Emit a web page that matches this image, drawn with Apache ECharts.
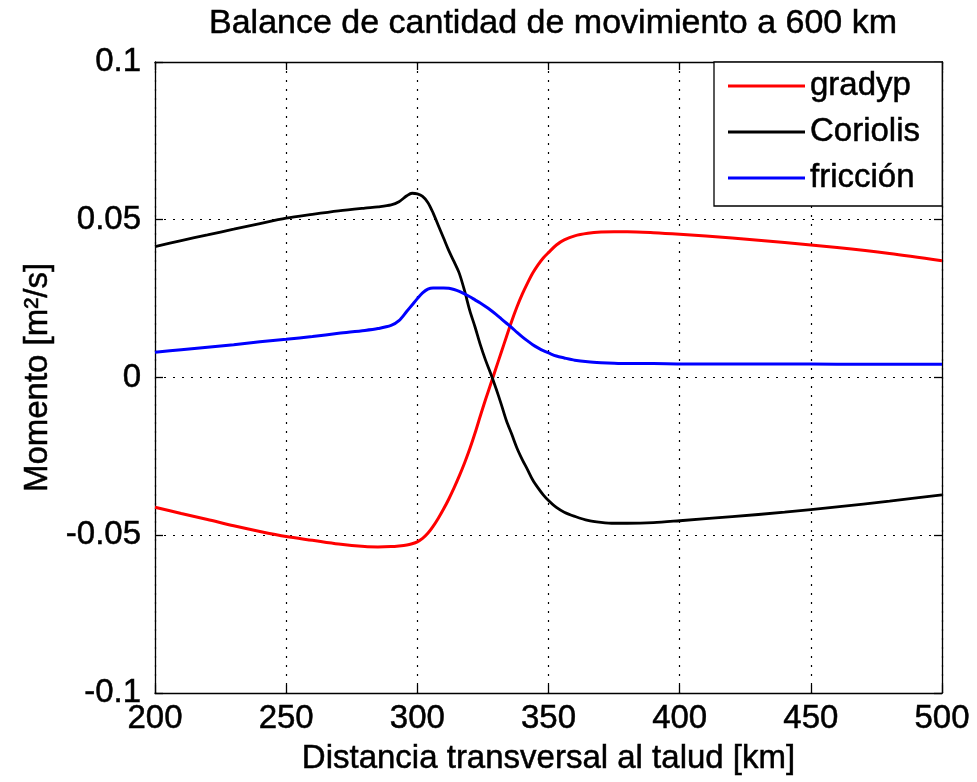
<!DOCTYPE html>
<html>
<head>
<meta charset="utf-8">
<script src="https://cdn.jsdelivr.net/npm/echarts@6/dist/echarts.min.js"></script>
<style>
  html, body { margin: 0; padding: 0; background: #fff; }
  #chart { width: 977px; height: 782px; }
</style>
</head>
<body>
<div id="chart"></div>
<script>
// Distance across the slope (km)
const distKm = [200,210,220,230,240,250,260,270,280,285,290,293,296,298,300,302,304,306,308,310,312,314,316,318,320,322,324,326,328,330,332,334,336,338,340,342,344,346,348,350,353,356,360,365,370,375,380,390,400,420,440,460,480,500];

// Pressure-gradient term (m^2/s)
const gradyp = [-0.0411,-0.0431,-0.0450,-0.0470,-0.0488,-0.0504,-0.0516,-0.0528,-0.0536,-0.0537,-0.0536,-0.0534,-0.0531,-0.0527,-0.0521,-0.0510,-0.0494,-0.0472,-0.0446,-0.0417,-0.0385,-0.0350,-0.0312,-0.0271,-0.0226,-0.0176,-0.0122,-0.0070,-0.0020,0.0030,0.0080,0.0130,0.0179,0.0224,0.0264,0.0299,0.0331,0.0357,0.0379,0.0396,0.0420,0.0436,0.0449,0.0457,0.0461,0.0462,0.0462,0.0459,0.0454,0.0442,0.0428,0.0412,0.0393,0.0370];

// Coriolis term (m^2/s)
const coriolis = [0.0415,0.0434,0.0452,0.0470,0.0488,0.0505,0.0517,0.0528,0.0537,0.0541,0.0547,0.0557,0.0576,0.0584,0.0582,0.0574,0.0555,0.0522,0.0482,0.0442,0.0402,0.0367,0.0330,0.0275,0.0212,0.0160,0.0104,0.0055,0.0012,-0.0035,-0.0085,-0.0138,-0.0180,-0.0224,-0.0260,-0.0292,-0.0325,-0.0350,-0.0372,-0.0390,-0.0412,-0.0427,-0.0440,-0.0453,-0.0459,-0.0462,-0.0462,-0.0460,-0.0454,-0.0441,-0.0427,-0.0410,-0.0392,-0.0372];

// Friction term (m^2/s)
const friccion = [0.0080,0.0088,0.0096,0.0104,0.0113,0.0121,0.0130,0.0140,0.0149,0.0155,0.0165,0.0180,0.0210,0.0230,0.0250,0.0268,0.0280,0.0284,0.0284,0.0284,0.0283,0.0279,0.0273,0.0265,0.0256,0.0246,0.0236,0.0225,0.0213,0.0200,0.0186,0.0172,0.0158,0.0143,0.0129,0.0116,0.0104,0.0094,0.0085,0.0078,0.0068,0.0062,0.0055,0.0050,0.0047,0.0045,0.0044,0.0044,0.0043,0.0043,0.0043,0.0042,0.0042,0.0042];

const seriesNames = ['gradyp', 'Coriolis', 'fricción'];
const xTicks = { min: 200, max: 500, step: 50 };
const yTicks = { min: -0.1, max: 0.1, step: 0.05 };

const pairs = vals => distKm.map((x, i) => [x, vals[i]]);

const FONT = '"Liberation Sans", Arial, Helvetica, sans-serif';
// slightly heavier glyphs, like the screen-rendered Helvetica of the plot
const ink = { color: '#000', textBorderColor: '#000', textBorderWidth: 0.5 };
const gridDots = { show: true, lineStyle: { color: '#000', width: 1.2, type: [2, 7] } };
const axisPen = { color: '#000', width: 1.3 };

const chart = echarts.init(document.getElementById('chart'), null, { renderer: 'canvas' });

chart.setOption({
  backgroundColor: '#fff',
  animation: false,
  textStyle: { fontFamily: FONT },
  title: {
    text: 'Balance de cantidad de movimiento a 600 km',
    left: 548,
    textAlign: 'center',
    top: 2,
    textStyle: Object.assign({ fontFamily: FONT, fontSize: 34, fontWeight: 'normal' }, ink)
  },
  grid: { left: 155, right: 35, top: 62, bottom: 89, show: false },
  legend: {
    data: seriesNames,
    orient: 'vertical',
    left: 714,
    top: 62,
    padding: [1, 22, 5, 14],
    itemGap: 0,
    itemWidth: 77,
    itemHeight: 3,
    icon: 'rect',
    backgroundColor: '#fff',
    borderColor: '#000',
    borderWidth: 1.3,
    borderRadius: 0,
    textStyle: Object.assign({ fontFamily: FONT, fontSize: 33, lineHeight: 46 }, ink)
  },
  xAxis: [
    {
      type: 'value', position: 'bottom',
      min: xTicks.min, max: xTicks.max, interval: xTicks.step,
      name: 'Distancia transversal al talud [km]',
      nameLocation: 'middle', nameGap: 49,
      nameTextStyle: Object.assign({ fontFamily: FONT, fontSize: 33 }, ink),
      axisLine: { show: true, onZero: false, lineStyle: axisPen },
      axisTick: { show: true, inside: true, length: 8, lineStyle: axisPen },
      axisLabel: Object.assign({ fontFamily: FONT, fontSize: 33, margin: 9 }, ink),
      splitLine: gridDots
    },
    {
      type: 'value', position: 'top',
      min: xTicks.min, max: xTicks.max, interval: xTicks.step,
      axisLine: { show: true, onZero: false, lineStyle: axisPen },
      axisTick: { show: true, inside: true, length: 8, lineStyle: axisPen },
      axisLabel: { show: false },
      splitLine: { show: false }
    }
  ],
  yAxis: [
    {
      type: 'value', position: 'left',
      min: yTicks.min, max: yTicks.max, interval: yTicks.step,
      name: 'Momento [m²/s]',
      nameLocation: 'middle', nameGap: 100,
      nameTextStyle: Object.assign({ fontFamily: FONT, fontSize: 33 }, ink),
      axisLine: { show: true, onZero: false, lineStyle: axisPen },
      axisTick: { show: true, inside: true, length: 8, lineStyle: axisPen },
      axisLabel: Object.assign({ fontFamily: FONT, fontSize: 33, margin: 14 }, ink),
      splitLine: gridDots
    },
    {
      type: 'value', position: 'right',
      min: yTicks.min, max: yTicks.max, interval: yTicks.step,
      axisLine: { show: true, onZero: false, lineStyle: axisPen },
      axisTick: { show: true, inside: true, length: 8, lineStyle: axisPen },
      axisLabel: { show: false },
      splitLine: { show: false }
    }
  ],
  series: [
    {
      name: seriesNames[0], type: 'line', data: pairs(gradyp),
      xAxisIndex: 0, yAxisIndex: 0,
      symbol: 'none', smooth: 0.3,
      lineStyle: { color: '#ff0000', width: 3 }, itemStyle: { color: '#ff0000' }
    },
    {
      name: seriesNames[1], type: 'line', data: pairs(coriolis),
      xAxisIndex: 0, yAxisIndex: 0,
      symbol: 'none', smooth: 0.3,
      lineStyle: { color: '#000000', width: 2.8 }, itemStyle: { color: '#000000' }
    },
    {
      name: seriesNames[2], type: 'line', data: pairs(friccion),
      xAxisIndex: 0, yAxisIndex: 0,
      symbol: 'none', smooth: 0.3,
      lineStyle: { color: '#0000ff', width: 3 }, itemStyle: { color: '#0000ff' }
    }
  ]
});
</script>
</body>
</html>
